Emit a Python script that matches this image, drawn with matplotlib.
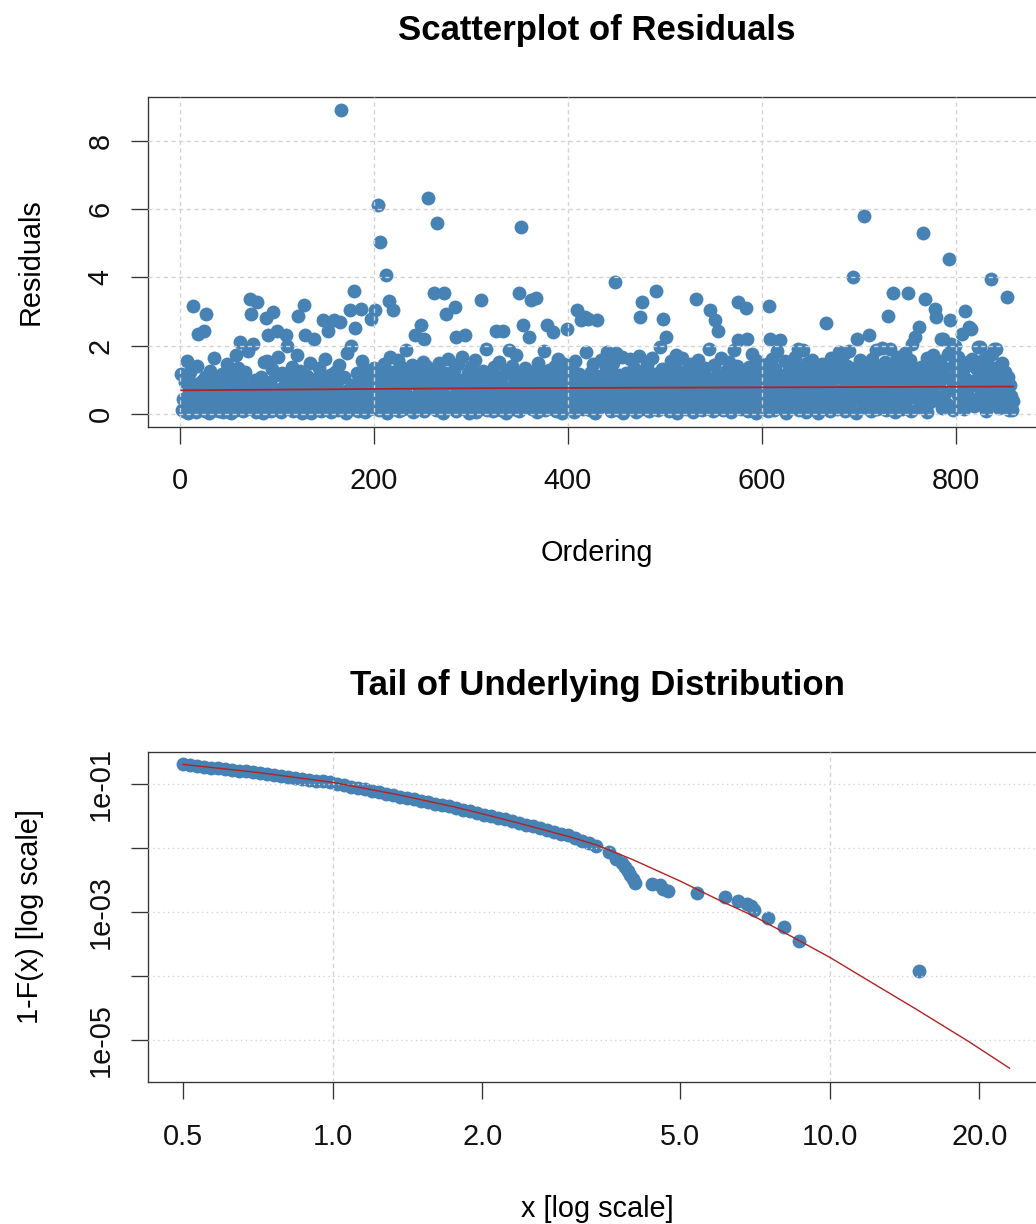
import matplotlib
matplotlib.use("Agg")
import matplotlib.pyplot as plt
from matplotlib.ticker import NullLocator

plt.rcParams['font.family'] = ['Liberation Sans', 'DejaVu Sans']

# residuals in ordering 1..859
residuals = [
    1.17, 0.12, 0.45, 0.08, 0.93, 0.31, 1.56, 0.04, 0.66, 1.22, 0.19, 0.52, 3.15, 0.27, 0.88, 0.06, 1.41, 2.35, 0.38, 0.71,
    0.15, 0.97, 0.42, 2.44, 0.09, 1.08, 2.93, 0.33, 0.61, 0.02, 1.27, 0.48, 0.21, 0.84, 1.63, 0.11, 0.56, 0.29, 1.02, 0.07,
    0.74, 0.36, 1.18, 0.05, 0.59, 0.23, 0.91, 1.46, 0.14, 0.40, 0.68, 0.03, 1.12, 0.26, 0.81, 0.47, 0.10, 1.71, 0.55, 1.33,
    0.18, 2.10, 0.62, 0.95, 0.07, 0.34, 1.24, 0.50, 0.13, 1.85, 0.77, 3.37, 2.93, 0.28, 2.05, 0.41, 0.99, 0.06, 3.27, 0.58,
    0.86, 0.22, 1.09, 0.44, 0.03, 1.52, 0.69, 2.81, 0.16, 1.56, 2.30, 0.37, 0.92, 0.09, 1.31, 2.98, 0.53, 0.25, 1.14, 2.44,
    1.66, 0.31, 0.72, 0.05, 1.19, 0.46, 0.14, 0.87, 2.30, 2.00, 0.39, 1.04, 0.20, 0.63, 1.38, 0.08, 0.51, 0.97, 0.27, 1.73,
    2.88, 0.11, 0.58, 1.26, 0.35, 0.04, 0.80, 3.18, 2.30, 0.43, 1.11, 0.19, 0.67, 1.48, 0.02, 0.90, 0.29, 2.20, 0.54, 1.03,
    0.13, 0.76, 1.35, 0.40, 0.07, 0.98, 2.74, 0.24, 1.60, 0.57, 0.17, 2.44, 0.83, 0.32, 1.15, 0.05, 0.64, 0.45, 2.74, 1.22,
    0.38, 0.94, 0.12, 1.42, 2.69, 8.90, 0.61, 0.26, 1.07, 0.49, 0.03, 1.78, 0.70, 0.21, 3.05, 2.00, 0.85, 0.15, 3.59, 2.51,
    0.52, 1.20, 0.09, 0.73, 0.34, 3.08, 1.55, 0.18, 0.96, 0.42, 0.06, 1.29, 0.66, 0.27, 1.01, 0.14, 2.79, 0.47, 0.87, 1.34,
    3.03, 0.33, 0.78, 6.12, 0.10, 5.04, 1.13, 0.55, 0.20, 1.47, 0.68, 4.08, 0.04, 0.92, 3.32, 1.66, 0.37, 1.24, 0.15, 3.03,
    0.60, 1.09, 0.23, 0.82, 1.58, 0.08, 0.45, 1.36, 0.71, 0.13, 1.02, 0.39, 1.87, 0.56, 0.19, 1.18, 0.94, 0.30, 1.44, 0.05,
    0.89, 2.30, 0.41, 1.25, 0.17, 0.64, 1.06, 2.61, 0.28, 1.51, 2.20, 0.07, 0.79, 1.39, 0.50, 6.33, 0.22, 1.15, 0.97, 0.35,
    1.32, 3.55, 0.58, 0.11, 5.58, 0.84, 1.49, 0.25, 1.05, 0.69, 0.04, 3.55, 1.21, 2.93, 0.46, 1.62, 0.32, 0.90, 0.16, 1.10,
    0.53, 1.28, 3.13, 2.25, 0.09, 0.75, 1.45, 0.36, 0.98, 0.20, 1.67, 0.62, 0.13, 2.30, 0.87, 0.44, 1.19, 0.02, 0.71, 1.37,
    0.27, 0.95, 0.48, 1.58, 0.06, 0.81, 1.12, 0.35, 0.63, 3.34, 0.18, 1.26, 0.74, 0.41, 1.90, 0.10, 0.57, 1.03, 0.29, 0.86,
    1.15, 0.43, 0.07, 1.36, 0.66, 2.44, 0.21, 0.93, 1.52, 0.38, 0.12, 1.08, 2.44, 0.54, 0.79, 0.03, 1.27, 0.46, 1.88, 0.70,
    0.24, 1.41, 0.62, 0.15, 0.99, 1.73, 0.33, 0.85, 3.55, 0.08, 1.17, 5.48, 0.51, 2.61, 0.19, 1.33, 0.72, 0.41, 1.06, 2.25,
    0.58, 3.34, 0.14, 1.22, 0.37, 0.91, 3.40, 0.05, 1.50, 0.66, 0.28, 1.13, 0.82, 0.47, 1.84, 0.11, 0.97, 2.61, 0.31, 1.29,
    0.74, 0.18, 1.04, 0.43, 2.40, 0.60, 1.39, 0.09, 0.88, 1.62, 0.26, 0.52, 1.19, 0.02, 0.77, 1.46, 0.34, 0.95, 2.50, 0.13,
    1.08, 0.49, 0.21, 1.32, 0.67, 0.06, 1.55, 0.39, 3.05, 0.83, 1.18, 0.27, 2.74, 0.56, 1.01, 0.15, 0.72, 2.83, 1.81, 0.44,
    2.79, 0.92, 0.10, 1.24, 0.61, 1.47, 0.33, 0.04, 0.86, 2.74, 0.50, 1.12, 0.19, 1.58, 0.70, 0.29, 1.03, 0.45, 1.36, 1.80,
    0.37, 0.81, 1.27, 0.08, 0.64, 1.49, 0.22, 0.97, 3.86, 1.78, 0.53, 0.12, 1.15, 0.41, 0.76, 1.66, 0.03, 0.89, 0.31, 1.21,
    0.58, 1.05, 0.16, 1.61, 0.47, 0.83, 0.25, 1.34, 0.69, 0.05, 1.09, 0.40, 1.70, 2.83, 0.14, 3.27, 0.93, 0.35, 1.25, 0.62,
    0.20, 1.43, 0.74, 0.09, 1.00, 0.52, 1.64, 0.30, 0.86, 1.17, 3.59, 0.43, 0.11, 0.79, 1.95, 0.60, 1.30, 2.77, 0.24, 0.98,
    2.25, 0.46, 1.13, 0.07, 0.72, 1.55, 0.34, 0.91, 0.18, 1.38, 0.63, 1.72, 0.03, 0.88, 1.20, 0.41, 0.57, 1.64, 0.26, 1.04,
    0.69, 0.13, 1.28, 0.50, 0.95, 0.22, 1.47, 0.78, 0.06, 1.11, 0.38, 3.37, 0.84, 1.59, 0.29, 0.63, 1.22, 0.10, 0.90, 0.45,
    1.34, 0.55, 0.17, 1.06, 0.73, 1.91, 3.03, 0.32, 0.98, 0.08, 1.42, 2.74, 0.61, 1.15, 2.44, 0.27, 0.86, 1.63, 0.40, 0.12,
    1.01, 0.48, 1.27, 0.19, 0.80, 1.52, 0.36, 0.05, 1.16, 0.65, 1.88, 0.24, 0.93, 1.40, 3.27, 2.15, 0.58, 1.09, 0.14, 0.77,
    0.42, 1.23, 0.70, 3.11, 2.20, 0.09, 1.37, 0.53, 0.96, 1.74, 0.21, 0.66, 1.12, 0.02, 1.56, 0.87, 0.33, 1.05, 1.29, 0.60,
    0.15, 1.18, 0.81, 0.44, 1.46, 0.07, 3.16, 2.20, 0.99, 0.35, 1.62, 0.72, 0.12, 1.31, 0.54, 1.85, 0.26, 0.89, 2.15, 0.47,
    1.10, 0.31, 0.76, 1.54, 0.04, 0.92, 1.24, 0.39, 0.63, 1.43, 0.18, 1.02, 0.57, 1.68, 0.28, 0.85, 1.90, 0.11, 1.33, 0.50,
    0.74, 1.20, 1.88, 0.23, 0.97, 0.06, 1.49, 0.61, 1.14, 0.37, 0.83, 1.58, 0.14, 1.07, 0.45, 1.36, 0.68, 0.02, 1.25, 0.90,
    0.32, 1.47, 0.79, 1.11, 0.16, 2.67, 0.55, 1.29, 0.93, 0.08, 1.65, 0.42, 1.03, 1.38, 0.26, 0.71, 1.52, 0.13, 1.19, 1.82,
    0.60, 1.26, 0.35, 1.01, 1.74, 0.09, 0.87, 1.41, 0.48, 1.85, 0.21, 1.15, 0.67, 4.01, 0.97, 1.33, 0.04, 2.20, 0.53, 1.22,
    1.57, 0.40, 0.88, 1.18, 5.79, 0.19, 1.44, 0.73, 1.06, 0.29, 2.30, 0.94, 0.07, 1.61, 0.51, 1.27, 0.82, 1.86, 0.15, 1.09,
    0.63, 1.35, 0.24, 1.92, 0.98, 0.47, 1.52, 0.11, 1.21, 2.88, 0.75, 1.89, 0.36, 1.13, 3.54, 0.58, 1.40, 0.05, 0.91, 1.68,
    0.29, 1.17, 0.82, 1.46, 0.13, 1.03, 0.56, 1.79, 0.38, 1.25, 3.54, 0.69, 1.58, 0.08, 2.05, 0.94, 1.32, 2.25, 0.47, 1.11,
    0.77, 2.54, 0.21, 1.38, 0.99, 5.30, 0.52, 3.37, 1.15, 0.06, 1.63, 0.86, 1.27, 0.34, 1.49, 0.64, 1.72, 1.05, 3.08, 2.83,
    0.41, 1.21, 0.90, 1.55, 2.20, 0.17, 2.20, 1.34, 0.62, 1.08, 0.28, 1.76, 4.55, 2.74, 2.05, 0.95, 0.10, 1.42, 2.00, 0.73,
    1.19, 0.55, 1.66, 0.32, 1.47, 0.88, 2.35, 1.28, 0.14, 3.00, 1.02, 0.67, 1.53, 2.54, 0.43, 2.49, 1.61, 0.96, 0.22, 1.37,
    0.84, 1.31, 1.95, 0.49, 1.95, 1.12, 0.26, 1.58, 0.71, 1.24, 0.08, 1.45, 0.93, 1.69, 0.36, 1.17, 3.96, 1.75, 0.60, 1.90,
    1.03, 1.90, 0.45, 1.36, 0.18, 1.12, 0.79, 1.48, 0.27, 0.94, 1.22, 0.63, 3.42, 1.07, 0.12, 0.85, 0.51, 0.10, 0.39,
]
ordering = list(range(1, len(residuals) + 1))

# smooth trend of the residuals (red line)
trend_x = [1, 300, 859]
trend_y = [0.69, 0.75, 0.80]

# empirical tail: x and 1-F(x)
tail_x = [0.499, 0.516, 0.532, 0.550, 0.568, 0.587, 0.606, 0.626, 0.647, 0.668,
          0.690, 0.713, 0.736, 0.761, 0.786, 0.812, 0.839, 0.866, 0.895, 0.924,
          0.955, 0.986, 1.019, 1.052, 1.087, 1.123, 1.160, 1.198, 1.238, 1.278,
          1.320, 1.364, 1.409, 1.455, 1.503, 1.553, 1.604, 1.657, 1.712, 1.768,
          1.826, 1.887, 1.949, 2.013, 2.079, 2.148, 2.219, 2.292, 2.367, 2.445,
          2.526, 2.609, 2.696, 2.784, 2.876, 2.971, 3.069, 3.170, 3.274, 3.382,
          3.60, 3.72, 3.82, 3.88, 3.93, 3.97, 4.02, 4.05, 4.38, 4.55,
          4.62, 4.72, 5.41, 6.15, 6.55, 6.80, 6.95, 7.05, 7.52, 8.08,
          8.65, 15.15]
tail_s = [0.200, 0.194, 0.189, 0.184, 0.179, 0.174, 0.169, 0.165, 0.160, 0.156,
          0.152, 0.147, 0.143, 0.138, 0.133, 0.129, 0.124, 0.120, 0.116, 0.112,
          0.109, 0.105, 0.0995, 0.0946, 0.0899, 0.0855, 0.0813, 0.0773, 0.0735, 0.0698,
          0.0665, 0.0631, 0.0600, 0.0570, 0.0542, 0.0515, 0.0490, 0.0465, 0.0442, 0.0420,
          0.0395, 0.0372, 0.0351, 0.0330, 0.0312, 0.0294, 0.0277, 0.0261, 0.0244, 0.0229,
          0.0215, 0.0202, 0.0189, 0.0177, 0.0167, 0.0156, 0.0143, 0.0129, 0.0117, 0.0106,
          0.0085, 0.0068, 0.0058, 0.0050, 0.0043, 0.0037, 0.0032, 0.0028, 0.00275, 0.0026,
          0.0023, 0.0021, 0.00195, 0.00168, 0.00150, 0.00135, 0.00122, 0.00105, 0.00080, 0.00059,
          0.00035, 0.00012]

# fitted tail (red line)
fit_x = [0.5, 0.7, 1.0, 1.35, 1.75, 2.0, 2.3, 3.0, 3.4, 4.0,
         5.0, 6.0, 7.0, 8.0, 10.0, 12.0, 15.0, 19.0, 23.0]
fit_s = [0.200, 0.151, 0.105, 0.0676, 0.0437, 0.0339, 0.0257, 0.0148, 0.0110, 0.00661,
         0.00302, 0.00151, 0.000871, 0.000501, 0.000195, 8.32e-05, 2.95e-05, 9.55e-06, 3.63e-06]

res_xticks = [0, 200, 400, 600, 800]
res_yticks = [0, 2, 4, 6, 8]
tail_xticks = [0.5, 1.0, 2.0, 5.0, 10.0, 20.0]
tail_xlabels = ["0.5", "1.0", "2.0", "5.0", "10.0", "20.0"]
tail_yticks = [1e-01, 1e-02, 1e-03, 1e-04, 1e-05]
tail_ylabels = ["1e-01", "", "1e-03", "", "1e-05"]
tail_xgrid = [1.0, 10.0]

POINT = 'steelblue'
LINE = '#B22222'
FRAME = '#333333'
GRID = '#D3D3D3'
FS = 20.8


def style_axes(ax):
    for sp in ax.spines.values():
        sp.set_color(FRAME)
        sp.set_linewidth(0.95)
    ax.tick_params(axis='both', length=12.2, width=0.95, color=FRAME,
                   labelsize=FS, labelcolor='#111111')
    ax.tick_params(axis='x', pad=17)
    ax.tick_params(axis='y', pad=12)
    ax.xaxis.set_minor_locator(NullLocator())
    ax.yaxis.set_minor_locator(NullLocator())


W, H = 1036, 1224
fig = plt.figure(figsize=(W / 100, H / 100), dpi=100)
ax1 = fig.add_axes([148 / W, 1 - 426.5 / H, 898 / W, 329.8 / H])
ax2 = fig.add_axes([148 / W, 1 - 1082 / H, 898 / W, 330.3 / H])

# --- scatterplot of residuals
ax1.scatter(ordering, residuals, s=100, color=POINT, linewidths=0, zorder=2)
ax1.plot(trend_x, trend_y, color=LINE, lw=1.3, zorder=4)
ax1.set_xlim(-33.3, 893.3)
ax1.set_ylim(-0.37, 9.29)
ax1.set_xticks(res_xticks)
ax1.set_yticks(res_yticks, [str(v) for v in res_yticks], rotation=90, va='center')
for v in res_xticks:
    ax1.axvline(v, color=GRID, lw=1.0, ls=(0, (3, 2.5)), zorder=3)
for v in res_yticks:
    ax1.axhline(v, color=GRID, lw=1.0, ls=(0, (3, 2.5)), zorder=3)
style_axes(ax1)
ax1.set_title("Scatterplot of Residuals", fontsize=25, fontweight='bold', pad=41)
ax1.set_xlabel("Ordering", fontsize=FS, va='baseline')
ax1.xaxis.set_label_coords(0.5, -0.408)
ax1.set_ylabel("Residuals", fontsize=FS, va='baseline')
ax1.yaxis.set_label_coords(-0.122, 0.5)

# --- tail of underlying distribution
ax2.set_xscale('log')
ax2.set_yscale('log')
ax2.scatter(tail_x, tail_s, s=100, color=POINT, linewidths=0, zorder=2)
ax2.plot(fit_x, fit_s, color=LINE, lw=1.0, zorder=4)
ax2.set_xlim(0.4246, 27.23)
ax2.set_ylim(2.21e-06, 0.316)
ax2.set_xticks(tail_xticks, tail_xlabels)
ax2.set_yticks(tail_yticks, tail_ylabels, rotation=90, va='center')
for v in tail_xgrid:
    ax2.axvline(v, color=GRID, lw=1.0, ls=(0, (3, 2.5)), zorder=3)
for v in tail_yticks:
    ax2.axhline(v, color=GRID, lw=1.0, ls=(0, (1, 2.5)), zorder=3)
style_axes(ax2)
ax2.set_title("Tail of Underlying Distribution", fontsize=25, fontweight='bold', pad=41)
ax2.set_xlabel("x [log scale]", fontsize=FS, va='baseline')
ax2.xaxis.set_label_coords(0.5, -0.408)
ax2.set_ylabel("1-F(x) [log scale]", fontsize=FS, va='baseline')
ax2.yaxis.set_label_coords(-0.122, 0.5)

fig.savefig("out.png", dpi=100)
